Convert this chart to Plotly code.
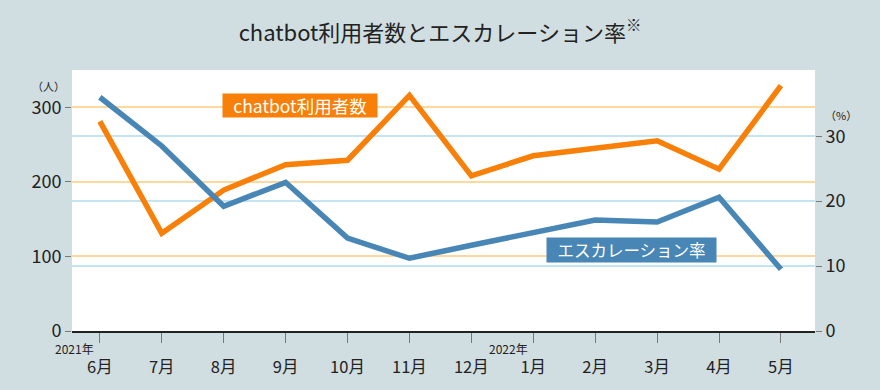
import plotly.graph_objects as go

months = ["6月", "7月", "8月", "9月", "10月", "11月", "12月", "1月", "2月", "3月", "4月", "5月"]
users = [281, 131, 189, 223, 229, 316, 208, 235, 245, 255, 217, 329]
esc_rate = [36.0, 28.5, 19.2, 22.9, 14.3, 11.2, 13.2, 15.2, 17.1, 16.8, 20.6, 9.5]
left_ticks = [0, 100, 200, 300]
right_ticks = [0, 10, 20, 30]

FONT = "Noto Sans CJK JP"
BG = "#d0dde1"
ORANGE = "#f87f08"
BLUE = "#4886b5"
x = list(range(len(months)))

fig = go.Figure()
fig.add_trace(go.Scatter(x=x, y=users, mode="lines", line=dict(color=ORANGE, width=5.5),
                         yaxis="y", showlegend=False, hoverinfo="skip"))
fig.add_trace(go.Scatter(x=x, y=esc_rate, mode="lines", line=dict(color=BLUE, width=5.5),
                         yaxis="y2", showlegend=False, hoverinfo="skip"))

fig.update_layout(
    width=880, height=390,
    paper_bgcolor=BG, plot_bgcolor="white",
    margin=dict(l=72, r=65, t=70, b=57),
    font=dict(family=FONT, color="#222"),
    title=dict(text="chatbot利用者数とエスカレーション率<sup>※</sup>", x=0.5, xanchor="center",
               y=1 - 33 / 390, yanchor="middle", font=dict(size=22, family=FONT, color="#222")),
    xaxis=dict(range=[-0.45, 11.55], tickvals=x, ticktext=months, ticks="outside",
               ticklen=10, tickcolor="#777", showgrid=False, showline=True,
               linecolor="#222", linewidth=2, tickfont=dict(size=16.5), zeroline=False,
               ticklabelstandoff=10),
    yaxis=dict(range=[0, 350], tickvals=left_ticks, ticks="outside", ticklen=6,
               tickcolor="#777", showgrid=True, gridcolor="#ffd89e", gridwidth=1.5,
               zeroline=False, showline=False, tickfont=dict(size=18)),
    yaxis2=dict(range=[0, 40.2], tickvals=right_ticks, overlaying="y", side="right",
                ticks="outside", ticklen=6, tickcolor="#777", showgrid=True,
                gridcolor="#c3e4f0", gridwidth=1.5, zeroline=False, showline=False,
                tickfont=dict(size=18)),
)

anns = [
    dict(x=3.24, y=303, xref="x", yref="y", text="chatbot利用者数", showarrow=False,
         font=dict(color="white", size=17.5), bgcolor=ORANGE, borderpad=2,
         width=150, height=19),
    dict(x=8.58, y=12.5, xref="x", yref="y2", text="エスカレーション率", showarrow=False,
         font=dict(color="white", size=16.5), bgcolor=BLUE, borderpad=2,
         width=165, height=20),
    dict(x=0, y=-0.068, xref="x", yref="paper", text="2021年", showarrow=False,
         xanchor="right", yanchor="middle", xshift=-4, font=dict(size=12)),
    dict(x=7, y=-0.068, xref="x", yref="paper", text="2022年", showarrow=False,
         xanchor="right", yanchor="middle", xshift=-3, font=dict(size=12)),
    dict(x=-0.032, y=1 - (86 - 70) / 263, xref="paper", yref="paper", text="（人）", showarrow=False,
         xanchor="center", yanchor="middle", font=dict(size=11)),
    dict(x=1.035, y=1 - (115 - 70) / 263, xref="paper", yref="paper", text="（%）", showarrow=False,
         xanchor="center", yanchor="middle", font=dict(size=11)),
]
fig.update_layout(annotations=anns)

fig.write_html("out.html", config={"displayModeBar": False},
               post_script="document.body.style.margin='0';")
